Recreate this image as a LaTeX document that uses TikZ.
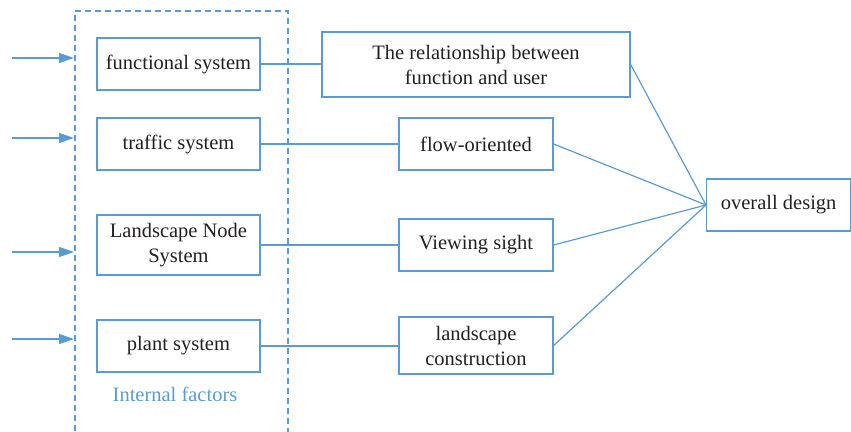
\documentclass[tikz,border=0pt]{standalone}
\usepackage{fontspec}
\setmainfont{Liberation Serif}
\usetikzlibrary{arrows.meta}
\definecolor{lblue}{HTML}{5B9BD5}
\definecolor{txt}{HTML}{231F20}
\tikzset{
  box/.style={draw=lblue, line width=1.3pt, rectangle, inner sep=0pt, align=center,
    text=txt, font=\fontsize{20.5}{25}\selectfont},
  link/.style={draw=lblue, line width=1.2pt},
  arr/.style={draw=lblue, line width=1.3pt, -{Triangle[length=15pt,width=10pt]}},
  dashbox/.style={draw=lblue, line width=1.5pt, dash pattern=on 6pt off 4pt, rectangle, inner sep=0pt}
}
\begin{document}
\begin{tikzpicture}[x=1pt,y=-1pt]
\clip (0,0) rectangle (851,431);
\useasboundingbox (0,0) rectangle (851,431);
\node[dashbox, minimum width=213pt, minimum height=440pt, anchor=north west] (dash) at (74,10) {};
% left boxes
\node[box, minimum width=163pt, minimum height=52pt] (fs) at (178.5,64) {functional system};
\node[box, minimum width=163pt, minimum height=52pt] (ts) at (178.5,144) {traffic system};
\node[box, minimum width=163pt, minimum height=60pt] (ln) at (178.5,245) {Landscape Node\\System};
\node[box, minimum width=163pt, minimum height=52pt] (ps) at (178.5,346) {plant system};
\node[text=lblue, font=\fontsize{20.5}{25}\selectfont] (lbl) at (175,394) {Internal factors};
% right boxes
\node[box, minimum width=308pt, minimum height=65pt] (rel) at (476,64.5) {The relationship between\\function and user};
\node[box, minimum width=154pt, minimum height=52pt] (fo) at (476,144) {flow-oriented};
\node[box, minimum width=154pt, minimum height=52pt] (vs) at (476,245) {Viewing sight};
\node[box, minimum width=154pt, minimum height=57pt] (lc) at (476,345.5) {landscape\\construction};
\node[box, minimum width=144pt, minimum height=52pt, anchor=west] (od) at (706,205) {overall design};
% input arrows
\coordinate (i1) at (12,58);
\coordinate (i2) at (12,138);
\coordinate (i3) at (12,252);
\coordinate (i4) at (12,339);
\draw[arr] (i1) -- (i1 -| dash.west);
\draw[arr] (i2) -- (i2 -| dash.west);
\draw[arr] (i3) -- (i3 -| dash.west);
\draw[arr] (i4) -- (i4 -| dash.west);
% links
\draw[link] (fs.east) -- (fs.east -| rel.west);
\draw[link] (ts.east) -- (ts.east -| fo.west);
\draw[link] (ln.east) -- (ln.east -| vs.west);
\draw[link] (ps.east) -- (ps.east -| lc.west);
\draw[link] (rel.east) -- (od.west);
\draw[link] (fo.east) -- (od.west);
\draw[link] (vs.east) -- (od.west);
\draw[link] (lc.east) -- (od.west);
\end{tikzpicture}
\end{document}
